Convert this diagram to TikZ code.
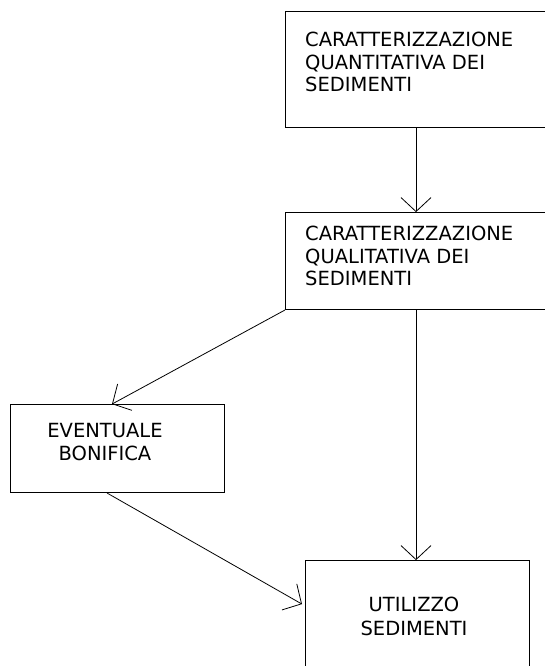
\documentclass[tikz,border=0pt]{standalone}
\usepackage{fontspec}
\setmainfont{DejaVu Sans}
\usetikzlibrary{arrows.meta,calc}
\begin{document}
\begin{tikzpicture}[x=1pt,y=1pt,
  boxstyle/.style={draw,line width=0.9pt,inner sep=0pt},
  txt/.style={inner sep=0pt,font=\fontsize{19.5}{22.5}\selectfont},
  arr/.style={line width=0.8pt,-{Straight Barb[length=14pt,width=30pt,line width=0.8pt]}}]
\fill[white] (0,0) rectangle (545,-666);
\clip (0,0) rectangle (545,-666);
% boxes
\node[boxstyle,anchor=south west,minimum width=275pt,minimum height=116pt] (box1) at (285,-128) {};
\node[boxstyle,anchor=south west,minimum width=275pt,minimum height=97pt] (box2) at (285,-310) {};
\node[boxstyle,anchor=south west,minimum width=214pt,minimum height=88pt] (box3) at (10,-493) {};
\node[boxstyle,anchor=south west,minimum width=224pt,minimum height=119pt] (box4) at (305,-680) {};
% texts
\node[txt,align=left,anchor=north west] (t1) at (305,-32) {CARATTERIZZAZIONE\\QUANTITATIVA DEI\\SEDIMENTI};
\node[txt,align=left,anchor=north west] (t2) at (305,-226) {CARATTERIZZAZIONE\\QUALITATIVA DEI\\SEDIMENTI};
\node[txt,align=center,anchor=north,font=\fontsize{19.5}{23.5}\selectfont] (t3) at (105,-423) {EVENTUALE\\BONIFICA};
\node[txt,align=center,anchor=north,font=\fontsize{19.5}{23.5}\selectfont] (t4) at (414,-597) {UTILIZZO\\SEDIMENTI};
% connectors
\draw[arr] ($(box1.south west)+(131,0)$) -- ($(box2.north west)+(131,0)$);
\draw[arr] (box2.south west) -- ($(box3.north west)+(102,0)$);
\draw[arr] ($(box2.south west)+(131,0)$) -- ($(box4.north west)+(111,0)$);
\draw[arr] ($(box3.south west)+(97,0)$) -- ($(box4.north west)+(-3,-44)$);
\end{tikzpicture}
\end{document}
